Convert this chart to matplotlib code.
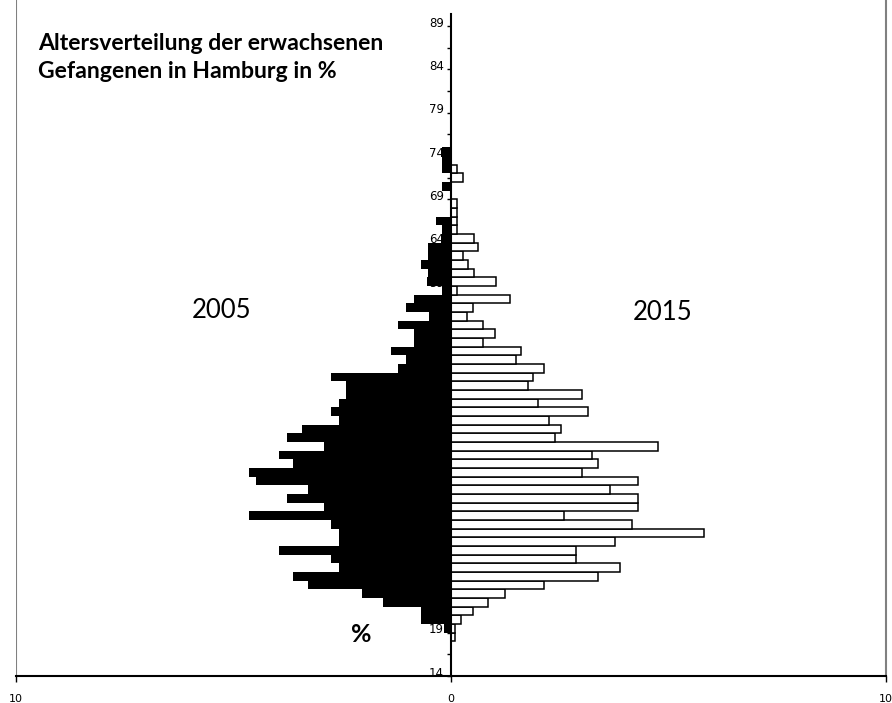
import matplotlib
matplotlib.use("Agg")
import matplotlib.pyplot as plt
import numpy as np

# age groups (years) and share of prisoners in %
ages = list(range(18, 75))
share_2005 = [0, 0.15, 0.69, 0.69, 1.56, 2.05, 3.29, 3.64, 2.58, 2.75,
              3.96, 2.58, 2.58, 2.75, 4.65, 2.93, 3.78, 3.29, 4.49, 4.65,
              3.64, 3.96, 2.93, 3.78, 3.43, 2.58, 2.75, 2.58, 2.42, 2.42,
              2.75, 1.22, 1.04, 1.38, 0.85, 0.85, 1.22, 0.51, 1.04, 0.85,
              0.2, 0.55, 0.53, 0.69, 0.53, 0.53, 0.2, 0.2, 0.35, 0,
              0, 0, 0.2, 0, 0.2, 0.2, 0.2]
share_2015 = [0.1, 0.1, 0.24, 0.51, 0.86, 1.24, 2.14, 3.39, 3.89, 2.88,
              2.88, 3.76, 5.81, 4.17, 2.6, 4.29, 4.29, 3.66, 4.29, 3.01,
              3.39, 3.25, 4.77, 2.39, 2.52, 2.26, 3.14, 2.0, 3.01, 1.76,
              1.89, 2.14, 1.5, 1.62, 0.74, 1.0, 0.74, 0.37, 0.51, 1.36,
              0.14, 1.04, 0.53, 0.39, 0.27, 0.62, 0.53, 0.14, 0.14, 0.14,
              0.14, 0, 0, 0.28, 0.14, 0, 0]
age_labels = list(range(14, 90, 5))
x_ticks = [-10, 0, 10]
x_labels = ["10", "0", "10"]

fig = plt.figure(figsize=(8.92, 7.03), dpi=100)
ax = fig.add_axes([16 / 892, 27 / 703, 870 / 892, 676 / 703])

ax.barh(ages, [-v for v in share_2005], height=1.0, color="black", linewidth=0)
ax.barh(ages, share_2015, height=1.0, color="white", edgecolor="black", linewidth=1.1)

ax.set_xlim(-10, 10)
ax.set_ylim(13.5, 91.5)

# centre axis
ax.spines["left"].set_position(("data", 0))
ax.spines["left"].set_linewidth(1.5)
ax.spines["left"].set_bounds(13.5, 89.9)
ax.spines["top"].set_visible(False)
ax.spines["right"].set_color("#808080")
ax.spines["right"].set_linewidth(1.5)
ax.spines["bottom"].set_linewidth(1.5)
ax.axvline(-10, color="#808080", linewidth=1.5)

ax.set_yticks(age_labels)
ax.set_yticklabels([str(a) for a in age_labels])
ax.set_yticks(list(np.arange(13.5, 90, 5)) + list(np.arange(16, 90, 5)), minor=True)
ax.tick_params(axis="y", which="major", length=0, pad=5, labelsize=8.5)
ax.tick_params(axis="y", which="minor", length=3, width=1, direction="out")

ax.set_xticks(x_ticks)
ax.set_xticklabels(x_labels)
ax.tick_params(axis="x", length=4, width=1, direction="out", pad=9, labelsize=8)

fig.text(38 / 892, 1 - 57.5 / 703, "Altersverteilung der erwachsenen\nGefangenen in Hamburg in %",
         fontfamily="Lato", fontweight="bold", fontsize=16.6, ha="left", va="center",
         linespacing=1.36)
fig.text(222 / 892, 1 - 311 / 703, "2005", fontfamily="Lato", fontsize=18.5, ha="center", va="center")
fig.text(663 / 892, 1 - 312 / 703, "2015", fontfamily="Lato", fontsize=18.5, ha="center", va="center")
fig.text(361 / 892, 1 - 634 / 703, "%", fontfamily="Lato", fontweight="bold", fontsize=18,
         ha="center", va="center")

fig.savefig("out.png", dpi=100)
